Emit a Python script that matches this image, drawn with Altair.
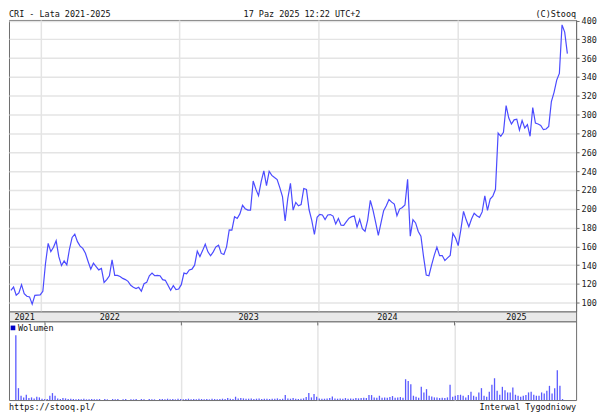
import altair as alt
import pandas as pd

# ---- data (weekly, CRI 2021-2025) ----
start_date = "2021-10-15"

close = [
    113.3, 116.8, 108, 110.5, 119.3, 109.8, 107, 106.3, 98.6, 108,
    108.2, 108.4, 112.3, 142, 163.2, 154.4, 159, 166, 149, 139.6,
    144.6, 140.3, 157.2, 169.5, 173, 165, 160.3, 157.9, 152.6, 143.9,
    135.8, 142.1, 138.6, 135, 136.5, 121.7, 124.6, 128.8, 145.6, 129.1,
    129.1, 128, 126, 124.7, 122.8, 118.6, 116.5, 115.1, 116.5, 112.3,
    120.3, 121.7, 128.8, 131.6, 128.8, 129.1, 128.8, 124.6, 123.9, 118.6,
    113.3, 118.2, 114, 114.7, 119.3, 131.6, 130.9, 135, 135.8, 140,
    154.9, 149.2, 155.5, 162.3, 154.2, 150, 154.2, 159.5, 161.3, 152.5,
    151.3, 159.5, 177.5, 177.2, 191.4, 189.6, 194.5, 203.6, 200, 198.5,
    198.5, 229.5, 220.8, 213.8, 228.7, 240.2, 224.5, 239.8, 235.4, 233.1,
    231, 222.5, 213, 187, 210.9, 226.9, 198.5, 206.7, 203.1, 204.5,
    221.5, 220.5, 198.9, 187.6, 172.6, 190.8, 194, 193.4, 188.6, 193.4,
    193.8, 192.2, 183.8, 189.6, 182.5, 182.4, 186.3, 190, 191.6, 192.2,
    180.5, 188.8, 178.8, 176, 188, 208.8, 198.5, 185.5, 171.7, 185,
    198, 203.2, 209.7, 207, 204.9, 192.6, 199.6, 201.4, 204, 231.2,
    170.9, 188.4, 184.9, 175.8, 170.9, 148.8, 129.5, 128.8, 140, 150.4,
    159.2, 150.2, 150.2, 144.9, 147.8, 150.4, 173.8, 168.9, 160.8, 177.7,
    197.2, 188.2, 180.8, 189.1, 195.1, 192.6, 190.9, 196.6, 213.7, 198.2,
    210.2, 213.3, 220.7, 280.4, 277, 281.2, 309.7, 296.3, 290, 294.5,
    295.2, 283.6, 293.8, 285.8, 289.3, 277, 307.6, 291, 290, 288.6,
    284, 284.7, 287.5, 313.9, 323.7, 336.7, 343.8, 395.4, 387.7, 364.9,
]

volume = [
    196, 36, 13, 8, 16, 6, 8, 5, 10, 8,
    4, 3, 3, 13, 21, 13, 5, 3, 6, 5,
    3, 4, 3, 2, 3, 2, 4, 2, 2, 3,
    2, 2, 3, 0, 3, 2, 0, 3, 2, 3,
    0, 2, 3, 0, 2, 2, 3, 0, 3, 2,
    0, 3, 2, 2, 0, 3, 3, 2, 4, 2,
    3, 2, 4, 3, 2, 3, 4, 2, 3, 2,
    4, 3, 2, 3, 2, 4, 3, 2, 3, 4,
    3, 6, 4, 3, 10, 5, 6, 5, 4, 4,
    5, 3, 4, 5, 3, 4, 4, 3, 4, 4,
    5, 3, 4, 15, 5, 4, 6, 4, 3, 4,
    5, 9, 21, 8, 18, 10, 5, 4, 4, 5,
    6, 11, 5, 4, 5, 4, 6, 4, 5, 4,
    6, 5, 6, 7, 6, 15, 15, 8, 7, 13,
    7, 8, 7, 9, 12, 7, 8, 9, 7, 63,
    58, 48, 13, 10, 7, 40, 23, 33, 13, 11,
    8, 8, 6, 7, 6, 8, 46, 10, 13, 15,
    16, 13, 8, 15, 25, 13, 10, 23, 36, 13,
    10, 25, 46, 66, 28, 16, 40, 30, 23, 23,
    38, 16, 13, 10, 13, 15, 23, 25, 16, 13,
    13, 23, 20, 28, 43, 20, 36, 90, 43, 3,
]

year_labels = ["2021", "2022", "2023", "2024", "2025"]
year_label_dates = ["2021-11-20", "2022-07-02", "2023-07-02", "2024-07-01", "2025-06-05"]
year_starts = [2022, 2023, 2024, 2025]
price_ticks = list(range(100, 401, 20))

header_left = "CRI - Lata 2021-2025"
header_mid = "17 Paz 2025 12:22 UTC+2"
header_right = "(C)Stooq"
footer_left = "https://stooq.pl/"
footer_right = "Interwal Tygodniowy"
legend_label = "Wolumen"

# ---- layout / style ----
FONT = "DejaVu Sans Mono"
FS = 8.5
W = 570
H_PRICE = 293
H_BAND = 10
H_VOL = 79
LINE_BLUE = "#4b4bff"
BAR_BLUE = "#5a5aff"
GRID = "#e4e4e4"
FRAME = "#6e6e6e"

df = pd.DataFrame({
    "date": pd.date_range(start_date, periods=len(close), freq="7D"),
    "close": close,
    "volume": volume,
})
years_df = pd.DataFrame({"label": year_labels, "mid": pd.to_datetime(year_label_dates)})
bounds_df = pd.DataFrame({"d": pd.to_datetime([f"{y}-01-01" for y in year_starts])})

xdomain = [alt.DateTime(year=2021, month=10, date=10), alt.DateTime(year=2025, month=11, date=9)]
tick_dt = [alt.DateTime(year=y, month=1, date=1) for y in year_starts]
xscale = alt.Scale(domain=xdomain)


def txt(s, x, y, align="left"):
    return alt.Chart(pd.DataFrame({"t": [s]})).mark_text(
        font=FONT, fontSize=FS, color="#111", align=align, baseline="middle"
    ).encode(x=alt.value(x), y=alt.value(y), text="t:N")


# ---- price panel ----
line = alt.Chart(df).mark_line(color=LINE_BLUE, strokeWidth=1.2).encode(
    x=alt.X("date:T", scale=xscale,
            axis=alt.Axis(values=tick_dt, grid=True, gridColor=GRID, gridWidth=1.5,
                          labels=False, ticks=False, domain=False, title=None)),
    y=alt.Y("close:Q", scale=alt.Scale(domain=[90.8, 400.6], zero=False, nice=False),
            axis=alt.Axis(orient="right", values=price_ticks, grid=True, gridColor=GRID,
                          gridWidth=1.5, tickSize=3, tickColor=FRAME, domainColor=FRAME,
                          labelFont=FONT, labelFontSize=FS, labelColor="#222",
                          labelPadding=2, title=None)),
)

price = alt.layer(
    line,
    txt(header_left, 0, -6, "left"),
    txt(header_mid, 294.5, -6, "center"),
    txt(header_right, W, -6, "right"),
).properties(width=W, height=H_PRICE,
             view=alt.ViewBackground(stroke=FRAME, strokeWidth=1, fill="white"))

# ---- year band ----
band_text = alt.Chart(years_df).mark_text(
    font=FONT, fontSize=FS, color="#111", baseline="middle"
).encode(
    x=alt.X("mid:T", scale=xscale, axis=None),
    y=alt.value(H_BAND / 2 + 0.5),
    text="label:N",
)
band = band_text.properties(
    width=W, height=H_BAND,
    view=alt.ViewBackground(stroke=FRAME, strokeWidth=1, fill="#e9e9e9"),
)

# ---- volume panel ----
bars = alt.Chart(df).mark_bar(color=BAR_BLUE, size=1.3).encode(
    x=alt.X("date:T", scale=xscale,
            axis=alt.Axis(values=tick_dt, grid=True, gridColor=GRID, gridWidth=1.5,
                          labels=False, ticks=False, domain=False, title=None)),
    y=alt.Y("volume:Q", scale=alt.Scale(domain=[0, 238], nice=False), axis=None),
)
vol_ticks = alt.Chart(bounds_df).mark_rule(color=FRAME, strokeWidth=1).encode(
    x=alt.X("d:T", scale=xscale), y=alt.value(0), y2=alt.value(4)
)
leg_sq = alt.Chart(pd.DataFrame({"t": [legend_label]})).mark_square(
    color="#0000c8", size=22, opacity=1
).encode(x=alt.value(4), y=alt.value(6.5))

vol = alt.layer(
    bars,
    vol_ticks,
    leg_sq,
    txt(legend_label, 9, 6.5, "left"),
    txt(footer_left, 0, H_VOL + 7, "left"),
    txt(footer_right, W, H_VOL + 7, "right"),
).properties(width=W, height=H_VOL,
             view=alt.ViewBackground(stroke=FRAME, strokeWidth=1, fill="white"))

chart = alt.vconcat(price, band, vol, spacing=0, bounds="flush").properties(
    padding=0
).configure(background="white")

chart.save("out.html", embed_options={"renderer": "svg", "actions": False})
